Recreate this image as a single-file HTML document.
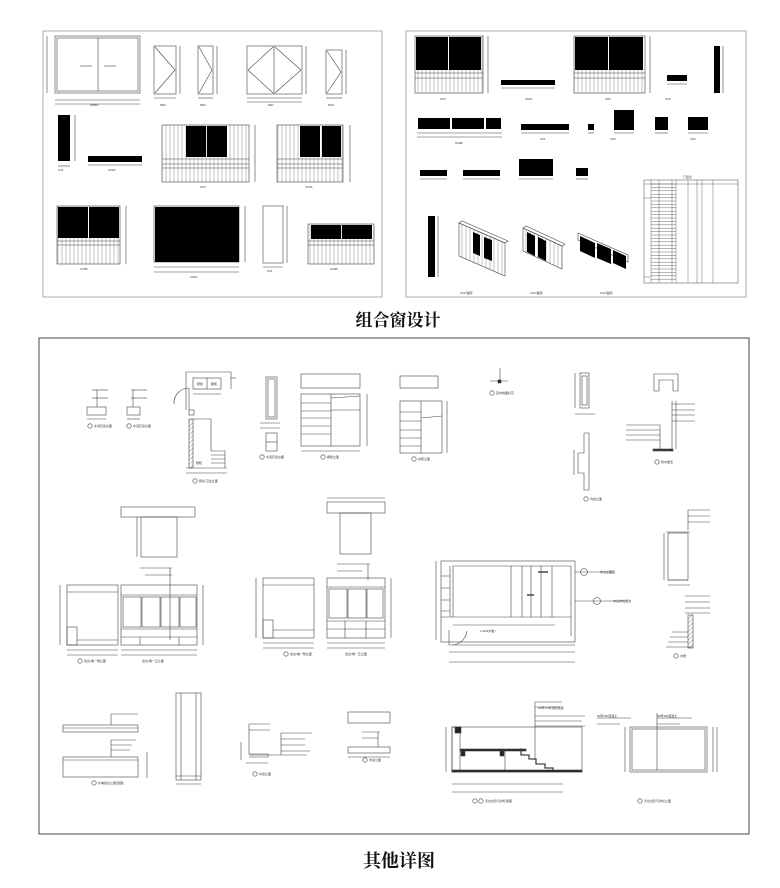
<!DOCTYPE html>
<html><head><meta charset="utf-8"><style>
html,body{margin:0;padding:0;background:#fff;}
svg{display:block;}
.t{font-family:"Liberation Serif","Noto Serif CJK SC",serif;font-weight:bold;fill:#111;}
.s{font-family:"Liberation Sans","Noto Sans CJK SC",sans-serif;font-size:3px;fill:#333;}
</style></head><body>
<svg width="780" height="888" viewBox="0 0 780 888" xmlns="http://www.w3.org/2000/svg">
<defs>
<pattern id="st" width="4" height="10" patternUnits="userSpaceOnUse"><line x1="2" y1="0" x2="2" y2="10" stroke="#777" stroke-width="0.45"/></pattern>
<pattern id="ht" width="3" height="3" patternUnits="userSpaceOnUse" patternTransform="rotate(45)"><line x1="0" y1="0" x2="0" y2="3" stroke="#444" stroke-width="0.6"/></pattern>
</defs>
<rect width="780" height="888" fill="#fff"/>
<g fill="none" stroke="#444" stroke-width="0.6">
<!-- panels -->
<rect x="43" y="31" width="339" height="266" stroke="#777"/>
<rect x="406" y="31" width="340" height="266" stroke="#777"/>
<rect x="39" y="338" width="710" height="496" stroke="#444" stroke-width="1"/>

<!-- LEFT PANEL -->
<rect x="55" y="36" width="85" height="57"/><rect x="57" y="38" width="81" height="53"/><line x1="98" y1="38" x2="98" y2="91"/>
<line x1="80" y1="66" x2="92" y2="66"/><line x1="104" y1="66" x2="116" y2="66"/>
<line x1="47" y1="36" x2="47" y2="93"/><line x1="55" y1="100" x2="140" y2="100"/><line x1="55" y1="104" x2="140" y2="104"/>
<rect x="154" y="46" width="22" height="48"/><polyline points="155,47 175,70 155,93"/><line x1="180" y1="46" x2="180" y2="94"/><line x1="154" y1="98" x2="176" y2="98"/>
<rect x="198" y="46" width="15" height="48"/><polyline points="199,47 212,70 199,93"/><line x1="217" y1="46" x2="217" y2="94"/><line x1="198" y1="98" x2="213" y2="98"/>
<rect x="247" y="46" width="55" height="48"/><line x1="274" y1="46" x2="274" y2="94"/><polyline points="273,47 248,70 273,93"/><polyline points="275,47 301,70 275,93"/><line x1="306" y1="46" x2="306" y2="94"/><line x1="247" y1="98" x2="302" y2="98"/><line x1="247" y1="102" x2="302" y2="102"/>
<rect x="326" y="50" width="16" height="44"/><polyline points="327,51 341,72 327,93"/><line x1="346" y1="50" x2="346" y2="94"/><line x1="326" y1="98" x2="342" y2="98"/>
<line x1="75" y1="115" x2="75" y2="161"/><line x1="58" y1="166" x2="70" y2="166"/>
<line x1="88" y1="165" x2="142" y2="165"/>
<rect x="162" y="125" width="87" height="57" fill="url(#st)"/><line x1="162" y1="159" x2="249" y2="159"/><line x1="162" y1="164" x2="249" y2="164"/><line x1="162" y1="168" x2="249" y2="168"/><line x1="255" y1="125" x2="255" y2="182"/>
<rect x="277" y="125" width="66" height="57" fill="url(#st)"/><line x1="277" y1="159" x2="343" y2="159"/><line x1="277" y1="164" x2="343" y2="164"/><line x1="277" y1="168" x2="343" y2="168"/><line x1="350" y1="125" x2="350" y2="182"/>
<rect x="57" y="206" width="63" height="58" fill="url(#st)"/><line x1="57" y1="241" x2="120" y2="241"/><line x1="57" y1="245" x2="120" y2="245"/><line x1="126" y1="206" x2="126" y2="264"/>
<rect x="154" y="206" width="85" height="56"/><line x1="154" y1="267" x2="239" y2="267"/><line x1="154" y1="272" x2="239" y2="272"/><line x1="245" y1="206" x2="245" y2="262"/>
<rect x="263" y="206" width="20" height="57"/><line x1="287" y1="206" x2="287" y2="263"/><line x1="263" y1="267" x2="283" y2="267"/>
<rect x="308" y="224" width="66" height="40" fill="url(#st)"/><line x1="308" y1="241" x2="374" y2="241"/><line x1="308" y1="245" x2="374" y2="245"/>

<!-- RIGHT PANEL -->
<rect x="415" y="36" width="68" height="57" fill="url(#st)"/><line x1="415" y1="73" x2="483" y2="73"/><line x1="415" y1="78" x2="483" y2="78"/><line x1="488" y1="36" x2="488" y2="93"/>
<line x1="501" y1="88" x2="555" y2="88"/>
<rect x="574" y="36" width="71" height="57" fill="url(#st)"/><line x1="574" y1="73" x2="645" y2="73"/><line x1="574" y1="78" x2="645" y2="78"/><line x1="650" y1="36" x2="650" y2="93"/>
<line x1="667" y1="84" x2="687" y2="84"/>
<line x1="723" y1="46" x2="723" y2="93"/>
<line x1="417" y1="133" x2="502" y2="133"/><line x1="417" y1="137" x2="502" y2="137"/>
<line x1="521" y1="133" x2="569" y2="133"/><line x1="588" y1="133" x2="594" y2="133"/>
<line x1="614" y1="133" x2="634" y2="133"/><line x1="655" y1="133" x2="668" y2="133"/><line x1="688" y1="133" x2="708" y2="133"/>
<line x1="420" y1="179" x2="447" y2="179"/><line x1="463" y1="179" x2="500" y2="179"/><line x1="519" y1="179" x2="553" y2="179"/><line x1="576" y1="179" x2="588" y2="179"/>
<line x1="438" y1="216" x2="438" y2="277"/>
<polygon points="459,223 505,243 505,276 459,256" fill="url(#st)"/><polygon points="459,223 462,221 508,241 505,243"/>
<polygon points="523,228 562,246 562,269 523,251" fill="url(#st)"/><polygon points="523,228 526,226 565,244 562,246"/>
<polygon points="578,233 628,255 628,262 578,240"/>
<rect x="644" y="180" width="94" height="103" stroke-width="0.5"/>
<g stroke-width="0.4">
<line x1="651" y1="180" x2="651" y2="283"/><line x1="659" y1="180" x2="659" y2="283"/><line x1="672" y1="180" x2="672" y2="283"/><line x1="676" y1="180" x2="676" y2="283"/><line x1="688" y1="180" x2="688" y2="283"/><line x1="697" y1="180" x2="697" y2="283"/><line x1="702" y1="180" x2="702" y2="283"/><line x1="713" y1="180" x2="713" y2="283"/>
<path d="M651 184H676M651 187.4H676M651 190.8H676M651 194.2H676M651 197.6H676M651 201H676M651 204.4H676M651 207.8H676M651 211.2H676M651 214.6H676M651 218H676M651 221.4H676M651 224.8H676M651 228.2H676M651 231.6H676M651 235H676M651 238.4H676M651 241.8H676M651 245.2H676M651 248.6H676M651 252H676M651 255.4H676M651 258.8H676M651 262.2H676M651 265.6H676M651 269H676M651 272.4H676M651 275.8H676M651 279.2H676"/>
<line x1="644" y1="184" x2="738" y2="184"/><line x1="644" y1="198" x2="651" y2="198"/><line x1="644" y1="277" x2="651" y2="277"/>
</g>

<!-- BOTTOM PANEL row1 -->
<rect x="87" y="407" width="19" height="8"/><line x1="97" y1="390" x2="97" y2="407"/><line x1="92" y1="390" x2="108" y2="390"/><line x1="92" y1="398" x2="108" y2="398"/><line x1="87" y1="419" x2="106" y2="419"/>
<rect x="127" y="407" width="13" height="8"/><line x1="133" y1="390" x2="133" y2="407"/><line x1="131" y1="390" x2="147" y2="390"/><line x1="131" y1="398" x2="147" y2="398"/><line x1="127" y1="419" x2="140" y2="419"/>
<circle cx="90" cy="426" r="2.2"/><circle cx="129" cy="426" r="2.2"/>
<rect x="193" y="378" width="28" height="11"/><line x1="207" y1="378" x2="207" y2="389"/><polyline points="186,410 186,372 231,372 231,389"/><line x1="193" y1="394" x2="221" y2="394"/><line x1="231" y1="378" x2="236" y2="378"/>
<path d="M174,404 A15,15 0 0 1 189,388"/><line x1="189" y1="388" x2="189" y2="410"/><rect x="189" y="410" width="5" height="5"/>
<rect x="189" y="419" width="4" height="49" fill="url(#ht)"/><polyline points="193,419 211,419 211,451"/><line x1="186" y1="468" x2="227" y2="468"/>
<path d="M211 451H225V468M211 455H225M211 459H225M211 463H225"/><line x1="186" y1="473" x2="227" y2="473"/>
<circle cx="195" cy="481" r="2.2"/>
<rect x="266" y="377" width="11" height="42"/><rect x="268" y="379" width="7" height="38"/><rect x="266" y="433" width="11" height="18"/><line x1="266" y1="442" x2="277" y2="442"/><line x1="260" y1="423" x2="280" y2="423"/><line x1="260" y1="428" x2="280" y2="428"/><circle cx="262" cy="457" r="2.2"/>
<rect x="301" y="374" width="59" height="14"/>
<rect x="301" y="394" width="59" height="52"/><line x1="331" y1="394" x2="331" y2="446"/><path d="M301 403H331M301 411H331M301 418H331M301 426H331M301 434H331M331 398L360 396M331 410L360 410"/><line x1="301" y1="451" x2="360" y2="451"/><line x1="367" y1="394" x2="367" y2="446"/><circle cx="323" cy="457" r="2.2"/>
<rect x="400" y="376" width="38" height="12"/>
<rect x="400" y="401" width="42" height="52"/><line x1="421" y1="401" x2="421" y2="453"/><path d="M400 412H421M400 421H421M400 430H421M400 438H421M400 446H421M421 418L442 416"/><line x1="447" y1="401" x2="447" y2="453"/><circle cx="414" cy="459" r="2.2"/>
<line x1="490" y1="381" x2="508" y2="381"/><line x1="500" y1="368" x2="500" y2="383"/><rect x="498" y="380" width="3" height="3" fill="#222"/><circle cx="492" cy="393" r="2.2"/>
<rect x="580" y="373" width="9" height="35"/><rect x="582" y="376" width="5" height="29"/><line x1="575" y1="373" x2="575" y2="408"/><line x1="575" y1="414" x2="595" y2="414"/>
<polyline points="584,433 589,433 589,490 584,490 584,473 578,473 578,453 584,453 584,433"/><line x1="574" y1="450" x2="574" y2="475"/><circle cx="586" cy="499" r="2.2"/>
<polyline points="654,391 654,374 678,374 678,391 673,391 673,380 659,380 659,391 654,391"/>
<line x1="672" y1="401" x2="672" y2="449"/><line x1="676" y1="401" x2="676" y2="449"/><rect x="653" y="449" width="20" height="2" fill="#333"/>
<path d="M672 404H695M672 410H695M672 415H695M672 421H695M626 425H660V449M626 430H660M626 435H660M626 440H660"/><circle cx="657" cy="462" r="2.2"/>

<!-- row2 -->
<rect x="121" y="507" width="74" height="10"/><rect x="141" y="517" width="36" height="40"/><line x1="137" y1="517" x2="137" y2="557"/>
<rect x="67" y="585" width="51" height="60"/><line x1="67" y1="592" x2="118" y2="592"/><rect x="67" y="627" width="10" height="18"/><line x1="77" y1="640" x2="118" y2="640"/><line x1="60" y1="585" x2="60" y2="645"/><line x1="67" y1="650" x2="118" y2="650"/><line x1="67" y1="655" x2="118" y2="655"/>
<rect x="121" y="585" width="76" height="60"/><line x1="121" y1="595" x2="197" y2="595"/>
<rect x="123" y="597" width="18" height="30"/><rect x="142" y="597" width="18" height="30"/><rect x="161" y="597" width="18" height="30"/><rect x="180" y="597" width="16" height="30"/>
<line x1="121" y1="629" x2="197" y2="629"/><line x1="121" y1="637" x2="197" y2="637"/><line x1="140" y1="637" x2="140" y2="645"/><line x1="179" y1="637" x2="179" y2="645"/><line x1="203" y1="585" x2="203" y2="645"/><line x1="121" y1="650" x2="197" y2="650"/><line x1="121" y1="655" x2="197" y2="655"/>
<line x1="170" y1="568" x2="170" y2="640"/><line x1="140" y1="568" x2="172" y2="568"/><line x1="145" y1="575" x2="172" y2="575"/><circle cx="80" cy="661" r="2.2"/>
<rect x="327" y="502" width="58" height="11"/><rect x="340" y="513" width="31" height="41"/><line x1="327" y1="498" x2="385" y2="498"/>
<rect x="263" y="578" width="51" height="60"/><line x1="263" y1="585" x2="314" y2="585"/><rect x="263" y="620" width="10" height="18"/><line x1="273" y1="630" x2="314" y2="630"/><line x1="256" y1="578" x2="256" y2="638"/><line x1="263" y1="643" x2="314" y2="643"/><line x1="263" y1="648" x2="314" y2="648"/>
<rect x="327" y="578" width="58" height="60"/><line x1="327" y1="587" x2="385" y2="587"/>
<rect x="329" y="589" width="18" height="29"/><rect x="348" y="589" width="18" height="29"/><rect x="367" y="589" width="16" height="29"/>
<line x1="327" y1="621" x2="385" y2="621"/><line x1="327" y1="629" x2="385" y2="629"/><line x1="345" y1="621" x2="345" y2="638"/><line x1="366" y1="621" x2="366" y2="638"/><line x1="391" y1="578" x2="391" y2="638"/><line x1="327" y1="643" x2="385" y2="643"/><line x1="327" y1="648" x2="385" y2="648"/>
<line x1="368" y1="564" x2="368" y2="580"/><line x1="337" y1="564" x2="370" y2="564"/><line x1="337" y1="571" x2="362" y2="571"/><circle cx="286" cy="654" r="2.2"/>
<rect x="441" y="561" width="134" height="81"/><polyline points="453,617 453,566 571,566 571,636"/><line x1="441" y1="617" x2="571" y2="617"/><line x1="453" y1="625" x2="555" y2="625"/>
<path d="M441 576H450M441 588H450M441 600H450M441 611H450"/><line x1="450" y1="566" x2="450" y2="617"/>
<path d="M511 566V617M522 566V617M531 566V617M541 566V617M552 566V617"/><line x1="538" y1="572" x2="548" y2="572" stroke-width="1.5"/><line x1="527" y1="595" x2="534" y2="595" stroke-width="1.5"/>
<path d="M453,645 A16,16 0 0 0 467,631"/><line x1="449" y1="630" x2="449" y2="645"/>
<line x1="449" y1="645" x2="575" y2="645"/><line x1="449" y1="652" x2="575" y2="652"/><line x1="449" y1="662" x2="575" y2="662"/><line x1="436" y1="561" x2="436" y2="640"/>
<line x1="575" y1="572" x2="612" y2="572"/><circle cx="584" cy="572" r="3.5"/><line x1="575" y1="601" x2="625" y2="601"/><circle cx="597" cy="601" r="3.5"/>
<rect x="668" y="533" width="20" height="47"/><line x1="668" y1="580" x2="688" y2="580"/><line x1="666" y1="532" x2="690" y2="532"/><line x1="664" y1="533" x2="664" y2="580"/><line x1="668" y1="585" x2="690" y2="585"/>
<path d="M688 510H710M688 516H710M688 522H710M688 510V530"/>
<rect x="688" y="615" width="5" height="33" fill="url(#ht)"/><path d="M672 632H688M670 637H688M668 642H688M666 647H693"/>
<path d="M685 596H710M685 602H710M685 608H710M685 613H710"/><circle cx="676" cy="656" r="2.2"/>

<!-- row3 -->
<rect x="63" y="725" width="75" height="7"/><line x1="63" y1="728" x2="138" y2="728"/><line x1="111" y1="714" x2="111" y2="725"/><line x1="111" y1="714" x2="138" y2="714"/>
<rect x="63" y="757" width="75" height="20"/><line x1="63" y1="760" x2="138" y2="760"/><line x1="111" y1="740" x2="111" y2="757"/><path d="M111 740H136M111 745H132M111 750H130"/><line x1="147" y1="752" x2="147" y2="778"/><circle cx="94" cy="783" r="2.2"/>
<rect x="176" y="693" width="25" height="87"/><line x1="181" y1="693" x2="181" y2="780"/><line x1="196" y1="693" x2="196" y2="780"/><line x1="176" y1="776" x2="201" y2="776"/><line x1="176" y1="784" x2="201" y2="784"/>
<polyline points="249,724 249,754 268,754 268,757 249,757"/><line x1="241" y1="742" x2="241" y2="760"/><path d="M249 724H270M249 730H270M249 755H307M281 733H312M281 739H305M281 745H305M281 751H310"/><line x1="281" y1="733" x2="281" y2="755"/><line x1="246" y1="763" x2="268" y2="763"/><circle cx="255" cy="774" r="2.2"/>
<rect x="348" y="712" width="42" height="11"/><rect x="348" y="747" width="42" height="6"/><line x1="378" y1="732" x2="378" y2="747"/><path d="M362 732H380M362 738H378"/><line x1="348" y1="757" x2="390" y2="757"/><circle cx="365" cy="760" r="2.2"/>
<rect x="452" y="727" width="130" height="45"/><rect x="452" y="727" width="8" height="45"/><rect x="455" y="727" width="6" height="6" fill="#222"/>
<rect x="460" y="749" width="66" height="2" fill="#222"/><rect x="461" y="751" width="4" height="5" fill="#222"/><rect x="500" y="751" width="4" height="5" fill="#222"/>
<polyline points="520,749 521,749 521,755 529,755 529,759 536,759 536,764 545,764 545,768 553,768 553,772" stroke-width="1.3"/>
<rect x="452" y="770" width="130" height="2" fill="#222"/><line x1="505" y1="751" x2="505" y2="770"/>
<line x1="535" y1="702" x2="535" y2="760"/><path d="M535 702H562M535 707H560M535 716H585M535 721H582M535 726H585"/>
<line x1="452" y1="784" x2="563" y2="784"/><line x1="452" y1="792" x2="563" y2="792"/><line x1="446" y1="727" x2="446" y2="772"/><circle cx="475" cy="801" r="2.2"/><circle cx="481" cy="801" r="2.2"/>
<rect x="630" y="727" width="77" height="45"/><rect x="632" y="729" width="73" height="41"/><line x1="657" y1="713" x2="657" y2="770"/><line x1="625" y1="727" x2="625" y2="772"/><line x1="713" y1="727" x2="713" y2="772"/><line x1="717" y1="727" x2="717" y2="772"/>
<path d="M597 718H631M597 724H620M657 718H692M657 724H680"/><circle cx="640" cy="801" r="2.2"/>
</g>
<g fill="#000">
<rect x="58" y="115" width="12" height="46"/><rect x="88" y="156" width="54" height="6"/>
<rect x="186" y="126" width="20" height="31"/><rect x="207" y="126" width="20" height="31"/>
<rect x="300" y="126" width="20" height="31"/><rect x="322" y="126" width="19" height="31"/>
<rect x="58" y="207" width="30" height="31"/><rect x="89" y="207" width="30" height="31"/>
<rect x="155" y="207" width="84" height="55"/>
<rect x="311" y="225" width="30" height="14"/><rect x="342" y="225" width="30" height="14"/>
<rect x="416" y="37" width="32" height="33"/><rect x="449" y="37" width="32" height="33"/>
<rect x="501" y="80" width="54" height="5"/>
<rect x="575" y="37" width="33" height="33"/><rect x="609" y="37" width="34" height="33"/>
<rect x="667" y="75" width="20" height="6"/><rect x="714" y="46" width="6" height="47"/>
<rect x="418" y="118" width="32" height="11"/><rect x="452" y="118" width="32" height="11"/><rect x="486" y="118" width="15" height="11"/>
<rect x="521" y="124" width="48" height="6"/><rect x="588" y="124" width="6" height="6"/>
<rect x="614" y="110" width="20" height="20"/><rect x="655" y="117" width="13" height="13"/><rect x="688" y="117" width="20" height="13"/>
<rect x="420" y="170" width="27" height="6"/><rect x="463" y="170" width="37" height="6"/><rect x="519" y="159" width="34" height="17"/><rect x="576" y="168" width="12" height="8"/>
<rect x="428" y="216" width="7" height="61"/>
<polygon points="473,232 480,235 480,256 473,253"/><polygon points="484,237 492,240 492,261 484,258"/>
<polygon points="527,232 535,236 535,256 527,252"/><polygon points="538,237 546,241 546,261 538,257"/>
<polygon points="580,236 595,243 595,258 580,251"/><polygon points="597,243 611,249 611,264 597,258"/><polygon points="613,250 626,256 626,269 613,263"/>
</g>
<g class="s">
<text x="90" y="106">WM01</text><text x="160" y="106">M02</text><text x="200" y="106">M03</text><text x="268" y="106">M07</text><text x="328" y="106">M10</text>
<text x="58" y="171">C01</text><text x="108" y="171">C02A</text><text x="200" y="188">C03</text><text x="305" y="188">C03A</text>
<text x="80" y="270">C03B</text><text x="190" y="278">C02A</text><text x="267" y="272">C01</text><text x="330" y="270">C03B</text>
<text x="440" y="100">C03</text><text x="525" y="100">C02C</text><text x="605" y="100">C03</text><text x="665" y="100">C05</text>
<text x="455" y="144">C03B</text><text x="540" y="140">C01</text><text x="610" y="140">C05</text><text x="690" y="140">C04</text>
<text x="460" y="294">C03 轴测</text><text x="530" y="294">C03 轴测</text><text x="600" y="294">C03 轴测</text>
<text x="683" y="178">门窗表</text>
<text x="94" y="427">水泥石窗台面</text><text x="133" y="427">水泥石窗台面</text><text x="199" y="482">厨房/卫生立面</text>
<text x="197" y="385">厨柜</text><text x="211" y="385">橱柜</text><text x="196" y="464">厨柜</text>
<text x="266" y="458">水泥石窗台面</text><text x="327" y="458">橱柜立面</text><text x="418" y="460">衣柜立面</text>
<text x="496" y="394">室内地面标高</text><text x="590" y="500">内窗立面</text><text x="661" y="463">防水做法</text>
<text x="84" y="662">窗台/墙一侧立面</text><text x="142" y="662">窗台/墙一正立面</text><text x="290" y="655">窗台/墙一侧立面</text><text x="345" y="655">窗台/墙一正立面</text>
<text x="600" y="573">木台立面图</text><text x="613" y="602">木台护栏做法</text><text x="480" y="632">1.200(木板)</text><text x="680" y="657">木梯</text>
<text x="98" y="784">外墙窗台立面(剖面)</text><text x="259" y="775">木窗立面</text><text x="369" y="761">木窗立面</text>
<text x="485" y="802">天台台阶与护栏剖面</text><text x="644" y="802">天台台阶与护栏立面</text>
<text x="538" y="709">20厚1:5水泥砂浆面</text><text x="657" y="717">50厚150混凝土</text><text x="597" y="717">50厚150混凝土</text>
</g>
<text class="t" x="398" y="326" font-size="17" text-anchor="middle">组合窗设计</text>
<text class="t" x="399" y="867" font-size="18" text-anchor="middle">其他详图</text>
</svg>
</body></html>
